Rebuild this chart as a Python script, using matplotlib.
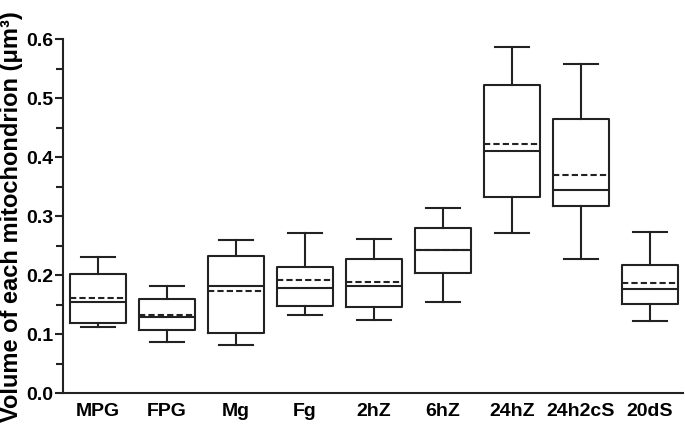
import matplotlib
matplotlib.use("Agg")
import matplotlib.pyplot as plt
from matplotlib.ticker import MultipleLocator

plt.rcParams['font.family'] = ['Liberation Sans', 'DejaVu Sans']
plt.rcParams['font.weight'] = 'bold'

categories = ["MPG", "FPG", "Mg", "Fg", "2hZ", "6hZ", "24hZ", "24h2cS", "20dS"]
whisker_low = [0.112, 0.087, 0.081, 0.133, 0.124, 0.154, 0.272, 0.228, 0.122]
q1 =          [0.119, 0.107, 0.102, 0.148, 0.146, 0.204, 0.332, 0.317, 0.151]
median =      [0.154, 0.129, 0.182, 0.178, 0.181, 0.243, 0.410, 0.344, 0.177]
mean =        [0.162, 0.133, 0.173, 0.191, 0.189, 0.243, 0.423, 0.369, 0.186]
q3 =          [0.202, 0.160, 0.233, 0.213, 0.228, 0.280, 0.522, 0.465, 0.217]
whisker_high = [0.231, 0.182, 0.260, 0.271, 0.261, 0.313, 0.587, 0.558, 0.273]

stats = []
for i, c in enumerate(categories):
    stats.append(dict(label=c, whislo=whisker_low[i], q1=q1[i], med=median[i],
                      mean=mean[i], q3=q3[i], whishi=whisker_high[i], fliers=[]))

fig = plt.figure(figsize=(6.85, 4.34), dpi=100)
ax = fig.add_axes([0.092, 0.094, 0.905, 0.816])

lw = 1.5
col = '#222222'
ax.bxp(stats, positions=range(len(categories)), widths=0.81, capwidths=0.49,
       showmeans=True, meanline=True, showfliers=False,
       boxprops=dict(color=col, linewidth=lw),
       whiskerprops=dict(color=col, linewidth=lw),
       capprops=dict(color=col, linewidth=lw),
       medianprops=dict(color=col, linewidth=lw),
       meanprops=dict(color=col, linewidth=lw, linestyle=(0, (3, 1.5))))

ax.set_xlim(-0.51, 8.48)
ax.set_ylim(0, 0.6)
ax.yaxis.set_major_locator(MultipleLocator(0.1))
ax.yaxis.set_minor_locator(MultipleLocator(0.05))
ax.set_yticklabels([f"{v:.1f}" for v in ax.get_yticks()])
ax.spines['top'].set_visible(False)
ax.spines['right'].set_visible(False)
for s in ('left', 'bottom'):
    ax.spines[s].set_linewidth(lw)
    ax.spines[s].set_color(col)
ax.tick_params(axis='y', which='major', length=6, width=lw, color=col, labelsize=14, pad=1)
ax.tick_params(axis='y', which='minor', length=5, width=lw, color=col)
ax.tick_params(axis='x', length=0, labelsize=14, pad=7)
for t in ax.get_xticklabels() + ax.get_yticklabels():
    t.set_fontweight('bold')
ax.set_ylabel("Volume of each mitochondrion (μm³)", fontsize=17, fontweight='bold', labelpad=2)

fig.savefig("out.png", dpi=100)
